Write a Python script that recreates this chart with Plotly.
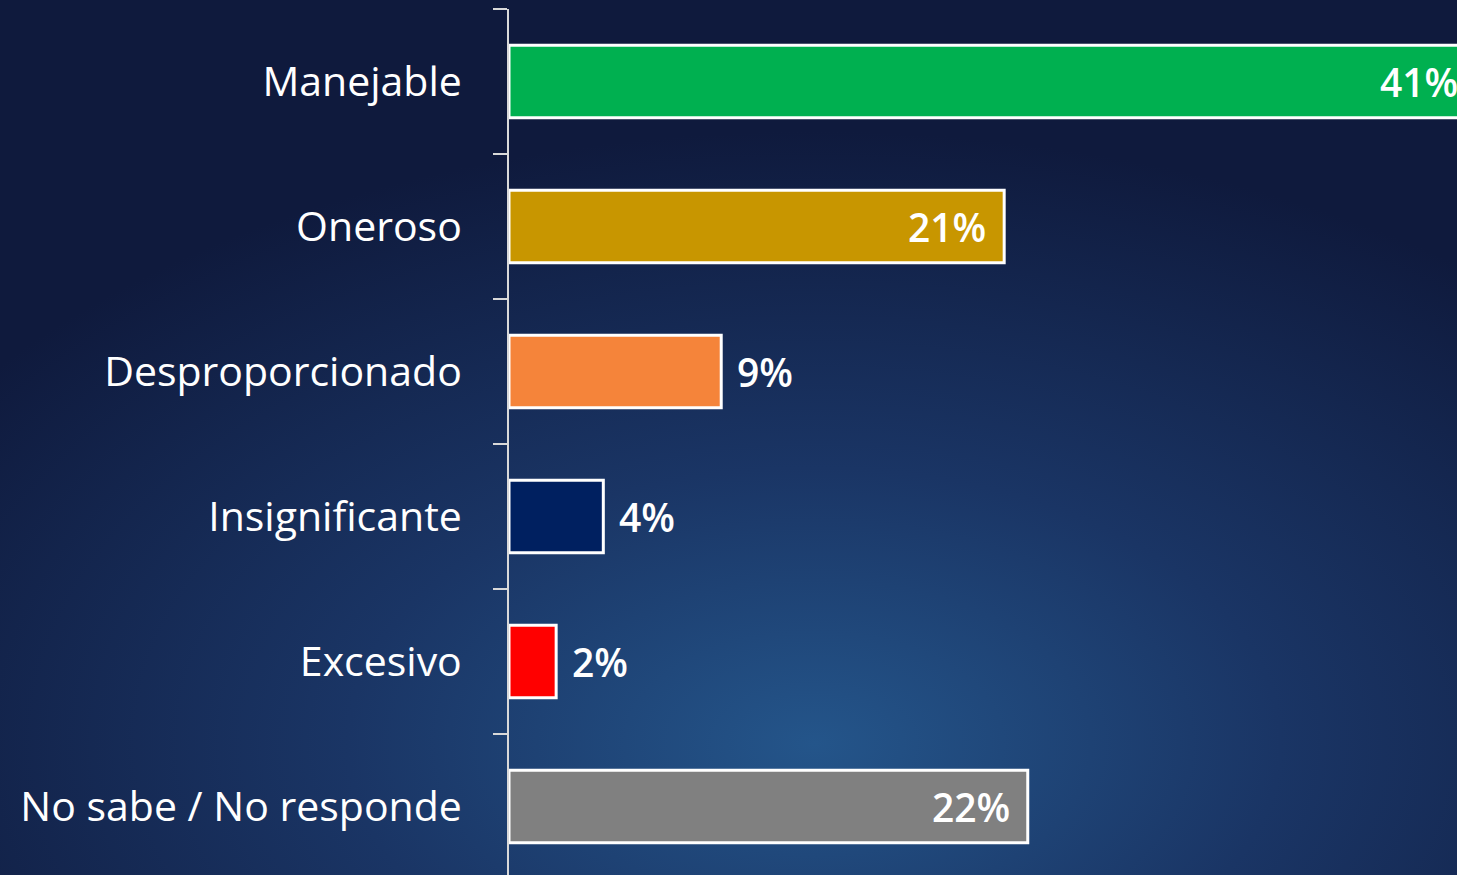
import base64
import plotly.graph_objects as go

categories = ["Manejable", "Oneroso", "Desproporcionado", "Insignificante", "Excesivo", "No sabe / No responde"]
values = [41, 21, 9, 4, 2, 22]
labels = ["41%", "21%", "9%", "4%", "2%", "22%"]
inside = [True, True, False, False, False, True]
colors = ["#00B050", "#C89600", "#F5843A", "#002060", "#FF0000", "#808080"]

W, H = 1480, 875
L, T = 509, 9
PX_PER_UNIT = 23.58

fig = go.Figure()
fig.add_trace(go.Bar(
    y=categories, x=values, orientation="h",
    marker=dict(color=colors, line=dict(color="#FFFFFF", width=3)),
    hoverinfo="skip",
))

for c, v, t, ins in zip(categories, values, labels, inside):
    fig.add_annotation(
        x=v, y=c, text=t, showarrow=False,
        xanchor="right" if ins else "left",
        xshift=-16 if ins else 14,
        font=dict(family="Open Sans", size=39, color="#FFFFFF", weight=600),
    )

svg = f'''<svg xmlns="http://www.w3.org/2000/svg" width="{W}" height="{H}">
<defs><radialGradient id="g" cx="0.55" cy="0.85" r="0.7">
<stop offset="0" stop-color="#24558a"/>
<stop offset="0.45" stop-color="#1a3565"/>
<stop offset="1" stop-color="#0f1a3d"/>
</radialGradient></defs>
<rect width="100%" height="100%" fill="url(#g)"/></svg>'''
src = "data:image/svg+xml;base64," + base64.b64encode(svg.encode()).decode()
pw, ph = W - L, H - T
fig.add_layout_image(
    source=src, xref="paper", yref="paper",
    x=-L / pw, y=1 + T / ph, sizex=W / pw, sizey=H / ph,
    xanchor="left", yanchor="top", sizing="stretch", layer="below",
)

fig.update_layout(
    width=W, height=H,
    margin=dict(l=L, r=0, t=T, b=0),
    paper_bgcolor="#12204a", plot_bgcolor="rgba(0,0,0,0)",
    bargap=0.5, showlegend=False,
    xaxis=dict(range=[0, pw / PX_PER_UNIT], visible=False, fixedrange=True),
    yaxis=dict(
        type="category", categoryorder="array", categoryarray=categories,
        range=[-0.5 + ph / 145.0, -0.5], showgrid=False, zeroline=False,
        showline=True, linecolor="#D9D9D9", linewidth=2,
        ticks="outside", tickson="boundaries", ticklen=14, tickwidth=2, tickcolor="#D9D9D9",
        tickfont=dict(family="Open Sans", size=41, color="#FFFFFF"),
        ticklabelstandoff=37, fixedrange=True,
    ),
)

fig.write_html(
    "out.html",
    config={"displayModeBar": False},
    post_script="document.body.style.margin='0';document.body.style.overflow='hidden';",
)
